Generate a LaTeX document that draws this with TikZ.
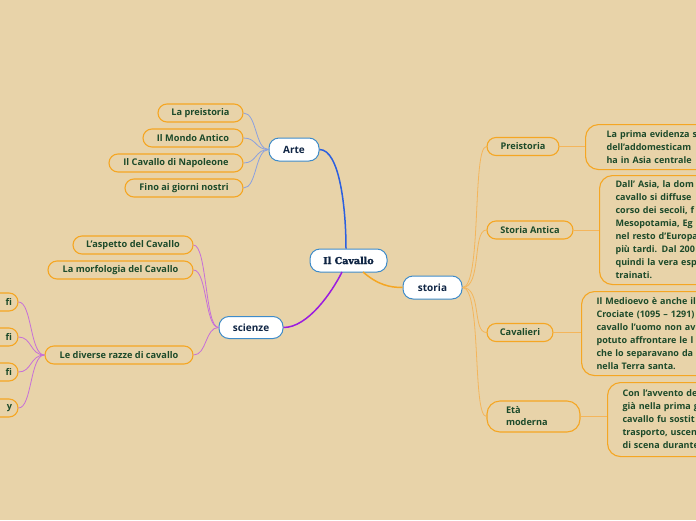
\documentclass[tikz,border=0pt]{standalone}
\usepackage{fontspec}
\setmainfont{Open Sans}
\newfontfamily\slabfont{DejaVu Serif}[BoldFeatures={FakeBold=2.2}]
\definecolor{bg}{HTML}{E8D3A9}
\definecolor{orangeb}{HTML}{F5A623}
\definecolor{orangel}{HTML}{F4B55B}
\definecolor{centb}{HTML}{3E8BC9}
\definecolor{artec}{HTML}{2B5FE0}
\definecolor{artel}{HTML}{8AA0E0}
\definecolor{scic}{HTML}{9B1BE0}
\definecolor{scil}{HTML}{C66FD8}
\definecolor{greentxt}{HTML}{1C4A2A}
\definecolor{navytxt}{HTML}{0F2544}
\tikzset{
  central/.style={draw=centb, fill=white, line width=1pt, rounded corners=10pt,
    minimum height=23pt, inner sep=0pt, text=navytxt, font=\fontsize{10}{12}\selectfont\bfseries},
  child/.style={draw=orangeb, line width=1.1pt, rounded corners=9pt,
    minimum height=18pt, inner sep=0pt, text=greentxt, font=\fontsize{9.2}{11}\selectfont\bfseries},
  detail/.style={draw=orangeb, line width=1.1pt, rounded corners=13pt, anchor=north west,
    inner xsep=0pt, inner ysep=0pt, text=greentxt, align=left,
    font=\fontsize{9}{13}\selectfont\bfseries},
  mainline/.style={line width=1.5pt},
  subline/.style={line width=0.8pt},
}
\begin{document}
\begin{tikzpicture}[x=1pt,y=-1pt]
\useasboundingbox (0,0) rectangle (696,520);
\fill[bg] (0,0) rectangle (696,520);
\begin{scope}
\clip (0,0) rectangle (696,520);
% central nodes
\node[central, minimum width=77pt, font=\fontsize{9.5}{12}\selectfont\slabfont\bfseries] (cav) at (348.5,260.5) {Il Cavallo};
\node[central, minimum width=50pt] (arte) at (294,149.5) {Arte};
\node[central, minimum width=64pt, minimum height=22pt] (sci) at (251,327.5) {scienze};
\node[central, minimum width=59pt] (sto) at (432.5,287.5) {storia};
% Arte children
\node[child, minimum width=85pt] (a1) at (200.5,113) {La preistoria};
\node[child, minimum width=100pt] (a2) at (193,138) {Il Mondo Antico};
\node[child, minimum width=134pt] (a3) at (176,163) {Il Cavallo di Napoleone};
\node[child, minimum width=118pt] (a4) at (184,188) {Fino ai giorni nostri};
% scienze children
\node[child, minimum width=120pt] (s1) at (133,245) {L’aspetto del Cavallo};
\node[child, minimum width=145pt] (s2) at (120.5,270) {La morfologia del Cavallo};
\node[child, minimum width=148pt] (s3) at (119,355) {Le diverse razze di cavallo};
% razze children (cut off at left)
\node[child, minimum width=70pt, text width=58pt, align=right, inner xsep=6pt] (r1) at (-17,302) {fi};
\node[child, minimum width=70pt, text width=58pt, align=right, inner xsep=6pt] (r2) at (-17,337) {fi};
\node[child, minimum width=70pt, text width=58pt, align=right, inner xsep=6pt] (r3) at (-17,372) {fi};
\node[child, minimum width=70pt, text width=58pt, align=right, inner xsep=6pt] (r4) at (-17,408) {y};
% storia children
\node[child, minimum width=72pt] (h1) at (523,146.5) {Preistoria};
\node[child, minimum width=86pt] (h2) at (530,230) {Storia Antica};
\node[child, minimum width=66pt] (h3) at (520,332.5) {Cavalieri};
\node[child, minimum width=93pt, minimum height=31pt, text width=55pt, align=left, inner xsep=19pt, rounded corners=13pt, font=\fontsize{9.2}{12}\selectfont\bfseries] (h4) at (533.5,416.5) {Età\\moderna};
% detail boxes
\node[detail, minimum height=45pt, text width=130pt, inner xsep=21pt] (d1) at (585,124) {La prima evidenza s\\dell’addomesticam\\ha in Asia centrale};
\node[detail, minimum height=109pt, text width=120pt, inner xsep=16pt] (d2) at (599,175) {Dall’ Asia, la dom\\cavallo si diffuse\\corso dei secoli, f\\Mesopotamia, Eg\\nel resto d’Europa\\più tardi. Dal 200\\quindi la vera esp\\trainati.};
\node[detail, minimum height=84pt, text width=130pt, inner xsep=15pt] (d3) at (581,291) {Il Medioevo è anche il\\Crociate (1095 – 1291)\\cavallo l’uomo non av\\potuto affrontare le l\\che lo separavano da\\nella Terra santa.};
\node[detail, minimum height=74pt, text width=110pt, inner xsep=15pt] (d4) at (607,382) {Con l’avvento de\\già nella prima g\\cavallo fu sostit\\trasporto, uscen\\di scena durante};
\end{scope}
% main branches
\draw[mainline, artec] (arte.east) .. controls (340,149.5) and (346,210) .. (cav.north -| 346,0);
\draw[mainline, scic] (sci.east) .. controls (308,327.5) and (332,292) .. (342,272);
\draw[mainline, orangeb] (363,272) .. controls (378,285) and (390,287.5) .. (sto.west);
% Arte sub-lines
\foreach \n in {a1,a2,a3,a4}{
  \draw[subline, artel] (arte.west) .. controls (255,149.5) and (257,0 |- \n.east) .. (\n.east);
}
% scienze sub-lines
\foreach \n in {s1,s2,s3}{
  \draw[subline, scil] (sci.west) .. controls (205,327.5) and (207,0 |- \n.east) .. (\n.east);
}
% razze sub-lines
\foreach \n in {r1,r2,r3,r4}{
  \draw[subline, scil] (s3.west) .. controls (30,355) and (32,0 |- \n.east) .. (\n.east);
}
% storia sub-lines
\foreach \n in {h1,h2,h3,h4}{
  \draw[subline, orangel] (sto.east) .. controls (482,287.5) and (472,0 |- \n.west) .. (\n.west);
}
% detail links
\draw[subline, orangel] (h1.east) -- (d1.west |- h1.east);
\draw[subline, orangel] (h2.east) -- (d2.west |- h2.east);
\draw[subline, orangel] (h3.east) -- (d3.west |- h3.east);
\draw[subline, orangel] (h4.east) -- (d4.west |- h4.east);
\end{tikzpicture}
\end{document}
